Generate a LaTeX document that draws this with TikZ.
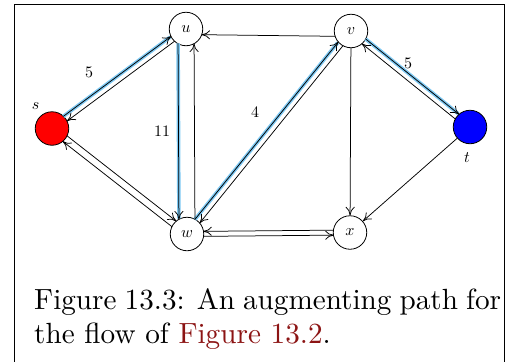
\documentclass[tikz,border=0pt]{standalone}
\usepackage{graphicx}
\usetikzlibrary{calc,arrows.meta}
\definecolor{hl}{RGB}{125,200,242}
\definecolor{linkred}{RGB}{140,20,20}
\newcommand\pedge[4][]{\draw[arr,#1] ($(#2)!#4!90:(#3)$) -- ($(#3)!#4!-90:(#2)$);}
\newcommand\hedge[4][]{\draw[hlline,#1] ($(#2)!#4!90:(#3)$) -- ($(#3)!#4!-90:(#2)$);}
\newcommand\captxt[1]{\scalebox{2.92}{\fontsize{10}{12}\selectfont #1}}
\newcommand\smtxt[1]{\scalebox{1.6}{\fontsize{10}{12}\selectfont #1}}
\begin{document}
\begin{tikzpicture}[x=1pt,y=-1pt,
  vert/.style={circle,draw,line width=0.8pt,minimum size=33.5pt,inner sep=0pt},
  arr/.style={-{To[length=8.5pt,width=9pt]},line width=0.75pt,shorten <=16.3pt,shorten >=16.3pt},
  hlline/.style={hl,line width=3.6pt,shorten <=16.3pt,shorten >=17.5pt},
  lab/.style={inner sep=0pt},
  captext/.style={anchor=base west,inner sep=0pt}]
\useasboundingbox (0,0) rectangle (515,362);
\draw[line width=1pt] (14,362) -- (14,4.5) -- (504,4.5) -- (504,362);
\node[vert,fill=red] (s) at (52,128.5) {};
\node[vert] (u) at (186,29) {\smtxt{$u$}};
\node[vert] (v) at (351,31) {\smtxt{$v$}};
\node[vert,fill=blue] (t) at (470,127) {};
\node[vert] (w) at (187,234) {\smtxt{$w$}};
\node[vert] (x) at (350,232.5) {\smtxt{$x$}};
\node[lab] (sl) at (35.5,106) {\smtxt{$s$}};
\node[lab] (tl) at (467,158) {\smtxt{$t$}};
% highlights
\hedge{s}{u}{3pt}
\hedge[shorten <=14.4pt,shorten >=15.5pt]{u}{w}{-8pt}
\hedge{w}{v}{3pt}
\hedge{v}{t}{3pt}
% edges
\pedge{s}{u}{3pt}
\pedge{u}{s}{3pt}
\pedge[shorten <=14.6pt,shorten >=14.6pt]{u}{w}{-8pt}
\pedge[shorten <=14.6pt,shorten >=14.6pt]{w}{u}{-8pt}
\pedge{s}{w}{3.5pt}
\pedge{w}{s}{3.5pt}
\pedge{w}{v}{3pt}
\pedge{v}{w}{3pt}
\pedge{v}{t}{3pt}
\pedge{t}{v}{3pt}
\pedge{w}{x}{-2.5pt}
\pedge{x}{w}{-2.5pt}
\pedge[shorten <=15.6pt,shorten >=15.6pt]{v}{u}{5.5pt}
\draw[arr,shorten <=0pt,shorten >=0pt] (v) -- (x);
\draw[arr,shorten <=0pt,shorten >=0pt] (t) -- (x);
% labels
\node[lab] (l1) at (89,72) {\smtxt{5}};
\node[lab] (l2) at (162,131) {\smtxt{11}};
\node[lab] (l3) at (255,112) {\smtxt{4}};
\node[lab] (l4) at (408,63) {\smtxt{5}};
% caption
\node[captext] (c1) at (34,309.3) {\captxt{\makebox[159.9pt][s]{Figure 13.3: An augmenting path for}}};
\node[captext] (c2) at (34,343) {\captxt{the flow of \textcolor{linkred}{Figure 13.2}.}};
\end{tikzpicture}
\end{document}
